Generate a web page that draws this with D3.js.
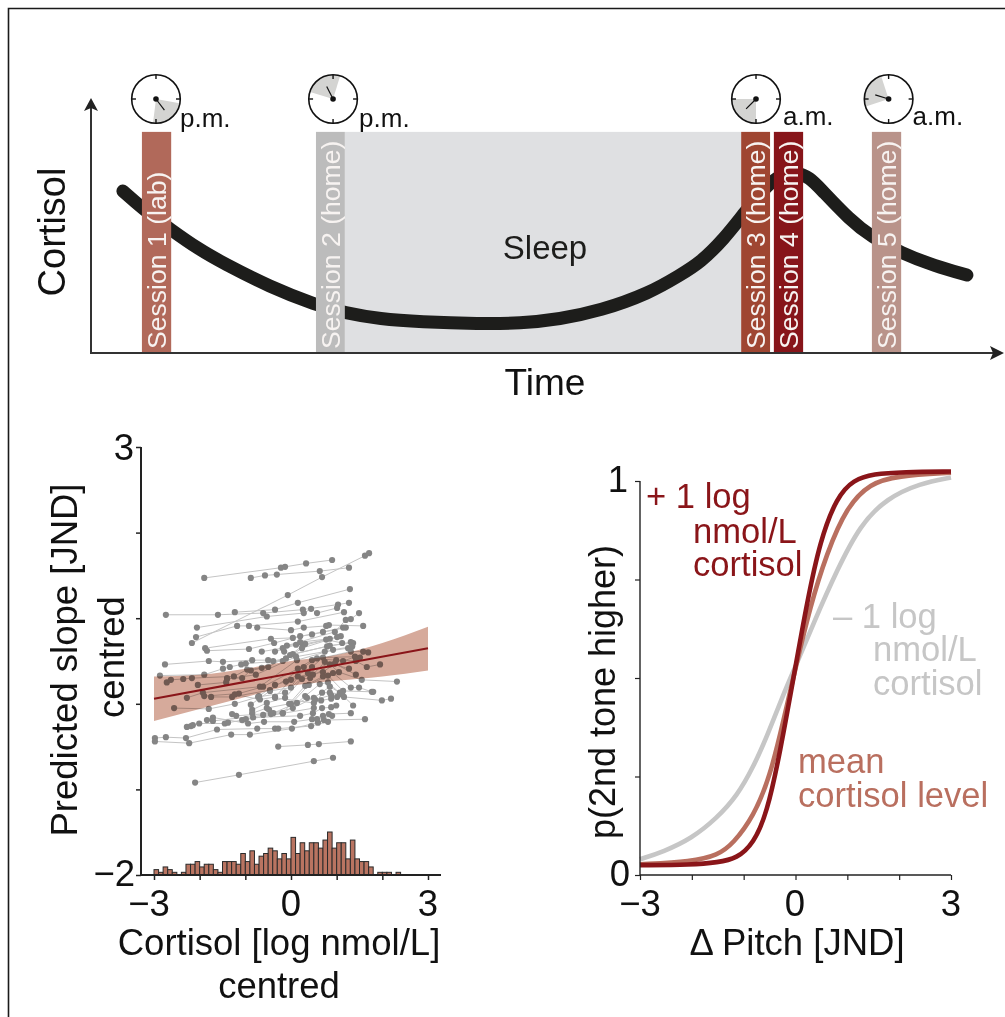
<!DOCTYPE html>
<html>
<head>
<meta charset="utf-8">
<script src="https://cdn.jsdelivr.net/npm/d3@7"></script>
<style>
  html, body { margin: 0; padding: 0; background: #fff; }
  svg { display: block; font-family: "Liberation Sans", Arial, sans-serif; }
</style>
</head>
<body>
<svg id="fig" width="1005" height="1017"></svg>
<script>
// top panel: hours on the time axis, arbitrary units for cortisol
const curveTime = [0.84, 1.34, 2.11, 2.87, 3.47, 4.71, 5.92, 6.68, 7.61, 8.66, 10.24, 11.29, 12.34, 13.39, 14.71, 15.5, 16.03, 16.68, 17.11, 17.87, 18.26, 18.58, 18.92, 19.18, 19.97, 20.55, 21.32, 22.21, 23.05];
const curveCortisol = [6.4, 5.73, 4.86, 4.07, 3.56, 2.61, 1.9, 1.58, 1.34, 1.23, 1.15, 1.17, 1.34, 1.66, 2.37, 3.08, 3.56, 4.55, 5.38, 6.8, 7.08, 7.15, 6.92, 6.52, 5.26, 4.58, 3.95, 3.44, 3.08];

const sessionNames = ["Session 1 (lab)", "Session 2 (home)", "Session 3 (home)", "Session 4 (home)", "Session 5 (home)"];
const sessionStart = [1.34, 5.92, 17.11, 17.97, 20.55];
const sessionEnd = [2.11, 6.68, 17.87, 18.74, 21.32];
const sessionColors = ["#b1695a", "#bcbcbc", "#9f4632", "#87151a", "#b9938a"];
const sleepSpan = [6.68, 17.11];
const panelTop = 8.74;

const clockTime = [1.71, 6.37, 17.5, 20.99];
const clockLabels = ["p.m.", "p.m.", "a.m.", "a.m."];
const clockWedgeFrom = [100, -73, 180, 252];
const clockWedgeTo = [187, 17, 270, 342];
const clockHand = [143, -27, 225, 287];

// bottom left: one array per participant, [cortisol, slope]
const participants = [
  [[-2.17,.71],[-.07,1.27],[.68,1.48],[1.62,1.73],[1.71,1.76]],
  [[-1.9,1.47],[-.22,1.59],[-.13,1.6],[.33,1.64],[.9,1.68]],
  [[-.88,1.47],[-.57,1.5],[-.31,1.51],[.63,1.55],[1.27,1.59]],
  [[-2.74,1.04],[-1.6,1.04],[-.61,1.06],[.26,1.1],[1.03,1.16],[1.27,1.18]],
  [[-1.23,1.07],[-.35,1.1],[.15,1.18],[1.29,1.34]],
  [[-2.06,.89],[-.53,1.02],[.28,1.06],[.44,1.11],[.57,1.06],[1.01,1.12]],
  [[-2.08,.78],[-1.18,.91],[-.92,.91],[.15,.96],[1.16,1.07]],
  [[-.74,.89],[0,.86],[.28,.89],[.77,.91],[.83,.92],[1.58,.91]],
  [[-1.88,.65],[-.44,.76],[.04,.77],[.7,.84],[1.14,.89]],
  [[-1.84,.62],[-.92,.64],[-.37,.71],[.2,.79],[.46,.81],[1.2,.89]],
  [[-.15,.61],[-.09,.68],[.96,.84],[1.2,.98],[1.31,.99],[1.49,1.06]],
  [[-2.76,.46],[-1.8,.5],[-1.49,.49],[-.85,.51],[-.5,.51],[-.39,.5],[-.11,.53],[.26,.68],[1.09,.79]],
  [[-2.87,.33],[-1.9,.34],[-1.49,.41],[-1.34,.43],[-1.09,.46],[-.99,.47],[-.18,.5],[.24,.65],[1.01,.78]],
  [[-2.72,.25],[-2.63,.28],[-2.36,.29],[-2.17,.3],[-1.25,.32],[-.96,.4],[-.64,.42],[.04,.58],[.79,.67],[1.31,.72]],
  [[-1.4,.3],[-1.07,.3],[-.88,.39],[-.5,.43],[-.02,.57],[.85,.68],[1.36,.71]],
  [[-2.04,.22],[-1.42,.25],[-1.4,.29],[-.77,.34],[.11,.55],[.74,.61],[1.25,.65]],
  [[-2.28,.07],[-1.93,.13],[-.68,.2],[.13,.51],[.92,.63],[1.34,.67]],
  [[-1.9,.09],[-1.14,.12],[-.61,.2],[.15,.41],[.46,.51],[1.31,.61],[1.58,.61]],
  [[-1.75,.08],[-1.29,.08],[-.46,.16],[.28,.43],[.57,.53],[1.14,.5],[1.69,.6]],
  [[-.7,.09],[-.35,.22],[-.11,.26],[.46,.43],[.7,.54],[1.4,.55],[1.51,.54]],
  [[-2.56,-.05],[-1.8,-.06],[-1.23,0],[-.72,.08],[-.13,.13],[.37,.36],[.99,.51],[1.42,.5],[1.66,.43],[1.95,.46]],
  [[-1.23,.11],[-.68,.05],[-.35,.08],[0,.28],[.48,.34],[.74,.49],[1.27,.41]],
  [[-.88,-.01],[-.46,.15],[0,.19],[.15,.32],[.7,.37],[.96,.47],[1.42,.34]],
  [[-.85,-.07],[-.53,.01],[-.13,.07],[.24,.29],[.42,.3],[.85,.46],[1.05,.37],[1.55,.28],[2.32,.26]],
  [[-.85,-.11],[-.53,-.05],[-.04,0],[.31,.21],[.7,.32],[.92,.36],[1.31,.19],[1.49,.19],[1.77,.14]],
  [[-.61,-.13],[-.48,-.07],[-.18,-.11],[0,0],[.39,.22],[.81,.33],[1.14,.15],[1.8,.14]],
  [[-.44,-.12],[.13,.01],[.31,.09],[.63,.23],[.81,.25],[1.16,.08],[1.99,.04],[2.19,.06]],
  [[-1.29,-.12],[-1.2,-.14],[-.39,-.11],[.04,-.05],[.5,.07],[.85,.2],[1.07,.13],[1.36,-.02]],
  [[-1.07,-.19],[-.99,-.18],[-.83,-.16],[.2,-.14],[.48,-.11],[.68,-.05],[.88,-.04],[.99,-.02]],
  [[-1.84,-.19],[-1.71,-.16],[-.94,-.23],[-.59,-.21],[.07,-.21],[.46,-.18],[.7,-.14],[.83,-.12],[1.31,-.11]],
  [[-2.28,-.27],[-2.19,-.26],[-2.15,-.25],[-2.01,-.23],[-1.45,-.23],[-1.38,-.22],[.5,-.05],[.68,.13],[.85,.13],[1.12,.11]],
  [[-1.71,-.2],[-.18,-.11],[.35,.07],[.66,.04],[.88,.06],[1.01,.08]],
  [[-2.98,-.4],[-2.74,-.39],[-2.3,-.4],[-1.62,-.3],[-.74,-.29],[-.35,-.29],[-.28,-.29],[.44,-.26],[.81,-.21]],
  [[-2.98,-.44],[-2.23,-.46],[-1.31,-.36],[-.9,-.36],[.02,-.29],[.59,-.22],[.72,-.19],[1.62,-.18]],
  [[-.28,-.5],[.37,-.48],[.61,-.47],[1.31,-.44]],
  [[-2.1,-.92],[-1.14,-.83],[.5,-.67],[.92,-.63]],
  [[.57,-.18],[.9,-.14]],
  [[-.35,.07],[.5,.01],[.53,.05],[.88,.1]],
  [[-.35,.61],[.11,.69],[.31,.7],[.77,.75],[1.12,.71]],
  [[-.64,.61],[-.18,.65],[.2,.72],[.85,.76]]
];

const bandX = [-3, -2, -1, 0, 1, 2, 3];
const bandUpper = [.32, .34, .41, .5, .57, .71, .9];
const bandLower = [-.2, -.06, .08, .21, .27, .32, .39];
const fitX = [-3, 3];
const fitY = [.06, .65];

// histogram of cortisol, bins are 0.1 wide starting at -3
const histCounts = [2, 1, 3, 2, 1, 0, 1, 4, 4, 5, 3, 4, 4, 2, 1, 5, 5, 5, 4, 8, 5, 9, 4, 7, 8, 10, 9, 6, 8, 6,
  14, 8, 12, 9, 12, 12, 10, 13, 16, 10, 12, 12, 6, 13, 6, 5, 5, 3, 0, 1, 1, 1, 0, 1];

// bottom right: psychometric curves
const plusX = [-3, -2, -1.5, -1.13, -.81, -.55, -.3, 0, .22, .476, .8, 1.12, 1.5, 2.08, 3];
const plusY = [.025, .026, .032, .042, .08, .157, .309, .529, .69, .85, .96, 1.003, 1.018, 1.023, 1.024];
const meanX = [-3, -2, -1.5, -1.2, -.81, -.49, -.23, 0, .28, .6, .99, 1.44, 1.95, 3];
const meanY = [.027, .034, .05, .08, .148, .25, .393, .525, .68, .816, .935, .994, 1.013, 1.021];
const minusX = [-3, -2.55, -2, -1.52, -1.13, -.81, -.553, -.23, 0, .347, .8, 1.25, 1.76, 2.4, 3];
const minusY = [.04, .059, .093, .144, .2, .275, .351, .46, .529, .639, .774, .889, .956, .994, 1.009];

const svg = d3.select("#fig");
const bigFont = 36.5;

function label(g, str, x, y, opts = {}) {
  return g.append("text")
    .attr("transform", `translate(${x},${y})` + (opts.rotate ? ` rotate(${opts.rotate})` : ""))
    .attr("text-anchor", opts.anchor || "start")
    .attr("font-size", opts.size || bigFont)
    .attr("fill", opts.fill || "#111")
    .text(str);
}

// frame, only top and left are visible
svg.append("path").attr("d", "M8.5,1017V8.5H1005").attr("fill", "none").attr("stroke", "#1a1a1a").attr("stroke-width", 1.6);

// ---- top panel
const tx = d3.scaleLinear().domain([0, 24]).range([91, 1003]);
const ty = d3.scaleLinear().domain([0, 10]).range([353, 100]);
const topPanel = svg.append("g");

topPanel.append("rect")
  .attr("x", tx(sleepSpan[0])).attr("width", tx(sleepSpan[1]) - tx(sleepSpan[0]))
  .attr("y", ty(panelTop)).attr("height", ty(0) - ty(panelTop))
  .attr("fill", "#dfe0e2");

const cortisolLine = d3.line().x((d, i) => tx(curveTime[i])).y((d) => ty(d)).curve(d3.curveBasis);
topPanel.append("path")
  .attr("d", cortisolLine(curveCortisol))
  .attr("fill", "none").attr("stroke", "#1d1d1b").attr("stroke-width", 13).attr("stroke-linecap", "round");

sessionNames.forEach((name, i) => {
  topPanel.append("rect")
    .attr("x", tx(sessionStart[i])).attr("width", tx(sessionEnd[i]) - tx(sessionStart[i]))
    .attr("y", ty(panelTop)).attr("height", ty(0) - ty(panelTop))
    .attr("fill", sessionColors[i]);
  label(topPanel, name, tx(sessionStart[i]) + 24, 349, { rotate: -90, size: 26.6, fill: "#f7f3f1" });
});

label(topPanel, "Sleep", 545, 259, { anchor: "middle", size: 33, fill: "#1d1d1b" });

topPanel.append("path").attr("d", "M91,104V353H997").attr("fill", "none").attr("stroke", "#333").attr("stroke-width", 2);
topPanel.append("path").attr("d", "M91,98L98,111L91,108L84,111Z").attr("fill", "#222");
topPanel.append("path").attr("d", "M1004,353L990,346L993,353L990,360Z").attr("fill", "#222");

label(topPanel, "Cortisol", 65, 232, { rotate: -90, anchor: "middle", size: 38 });
label(topPanel, "Time", 545, 395, { anchor: "middle", size: 37 });

// clocks
const clockArc = d3.arc().innerRadius(0).outerRadius(24);
const rad = (deg) => (deg * Math.PI) / 180;
const clockLabelDx = [24, 26, 27, 24];
const clockLabelY = [126.5, 126.5, 124.5, 124.5];
clockTime.forEach((t, i) => {
  const c = topPanel.append("g").attr("transform", `translate(${tx(t)},99)`);
  c.append("path")
    .attr("d", clockArc({ startAngle: rad(clockWedgeFrom[i]), endAngle: rad(clockWedgeTo[i]) }))
    .attr("fill", "#d4d4d2");
  c.append("circle").attr("r", 24.3).attr("fill", "none").attr("stroke", "#111").attr("stroke-width", 1.6);
  [0, 90, 180, 270].forEach((a) => {
    c.append("line")
      .attr("x1", 20 * Math.sin(rad(a))).attr("y1", -20 * Math.cos(rad(a)))
      .attr("x2", 24 * Math.sin(rad(a))).attr("y2", -24 * Math.cos(rad(a)))
      .attr("stroke", "#111").attr("stroke-width", 1.4);
  });
  c.append("line")
    .attr("x2", 14 * Math.sin(rad(clockHand[i]))).attr("y2", -14 * Math.cos(rad(clockHand[i])))
    .attr("stroke", "#111").attr("stroke-width", 1.2);
  c.append("circle").attr("r", 2.8).attr("fill", "#111");
  label(topPanel, clockLabels[i], tx(t) + clockLabelDx[i], clockLabelY[i], { size: 26, fill: "#111" });
});

// ---- bottom left
const sx = d3.scaleLinear().domain([-3, 3]).range([154, 428]);
const sy = d3.scaleLinear().domain([-2, 3]).range([875, 447]);
const hy = d3.scaleLinear().domain([0, 16]).range([875, 832]);
const leftPanel = svg.append("g");

participants.forEach((p) => {
  leftPanel.append("path")
    .attr("d", d3.line().x((d) => sx(d[0])).y((d) => sy(d[1]))(p))
    .attr("fill", "none").attr("stroke", "#c4c4c4").attr("stroke-width", 1);
});
leftPanel.append("g").selectAll("circle")
  .data(participants.flat())
  .join("circle")
  .attr("cx", (d) => sx(d[0])).attr("cy", (d) => sy(d[1])).attr("r", 3.1)
  .attr("fill", "#858585");

const band = d3.area()
  .x((d) => sx(d))
  .y0((d, i) => sy(bandLower[i]))
  .y1((d, i) => sy(bandUpper[i]))
  .curve(d3.curveMonotoneX);
leftPanel.append("path").attr("d", band(bandX)).attr("fill", "#d6aa9b").style("mix-blend-mode", "multiply");
leftPanel.append("line")
  .attr("x1", sx(fitX[0])).attr("y1", sy(fitY[0])).attr("x2", sx(fitX[1])).attr("y2", sy(fitY[1]))
  .attr("stroke", "#8a1519").attr("stroke-width", 2);

const binWidth = 0.1;
leftPanel.append("g").selectAll("rect")
  .data(histCounts)
  .join("rect")
  .attr("display", (d) => (d > 0 ? null : "none"))
  .attr("x", (d, i) => sx(-3 + i * binWidth))
  .attr("width", sx(binWidth) - sx(0))
  .attr("y", (d) => hy(d))
  .attr("height", (d) => hy(0) - hy(d))
  .attr("fill", "#b97461").attr("stroke", "#2b2b2b").attr("stroke-width", 1);

const leftX = leftPanel.append("g").attr("transform", "translate(0,875)")
  .call(d3.axisBottom(sx).tickValues([-3, -2, -1, 0, 1, 2, 3]).tickSize(5).tickFormat(""));
leftX.select(".domain").attr("d", "M141,0H441").attr("stroke", "#222").attr("stroke-width", 2);
leftX.selectAll(".tick line").attr("stroke", "#222").attr("stroke-width", 1.5);
const leftY = leftPanel.append("g").attr("transform", "translate(141,0)")
  .call(d3.axisLeft(sy).tickValues([-2, -1, 0, 1, 2, 3]).tickSize(5).tickFormat(""));
leftY.select(".domain").attr("d", "M0,447V875").attr("stroke", "#222").attr("stroke-width", 2);
leftY.selectAll(".tick line").attr("stroke", "#222").attr("stroke-width", 1.5);

label(leftPanel, "3", 134, 460, { anchor: "end" });
label(leftPanel, "−2", 135, 886, { anchor: "end" });
label(leftPanel, "−3", 149, 916, { anchor: "middle" });
label(leftPanel, "0", 291, 916, { anchor: "middle" });
label(leftPanel, "3", 428, 916, { anchor: "middle" });
label(leftPanel, "Predicted slope [JND]", 77, 660, { rotate: -90, anchor: "middle" });
label(leftPanel, "centred", 124, 657, { rotate: -90, anchor: "middle" });
label(leftPanel, "Cortisol [log nmol/L]", 279, 955, { anchor: "middle" });
label(leftPanel, "centred", 279, 998, { anchor: "middle" });

// ---- bottom right
const px = d3.scaleLinear().domain([-3, 3]).range([640, 951]);
const py = d3.scaleLinear().domain([0, 1]).range([875, 481]);
const rightPanel = svg.append("g");

const curveSets = [
  [minusX, minusY, "#c6c6c6"],
  [meanX, meanY, "#b96f5f"],
  [plusX, plusY, "#8a1519"]
];
curveSets.forEach(([xs, ys, color]) => {
  rightPanel.append("path")
    .attr("d", d3.line().x((d, i) => px(xs[i])).y((d) => py(d)).curve(d3.curveBasis)(ys))
    .attr("fill", "none").attr("stroke", color).attr("stroke-width", 4.6);
});

const rightX = rightPanel.append("g").attr("transform", "translate(0,875)")
  .call(d3.axisBottom(px).tickValues([-3, -2, -1, 0, 1, 2, 3]).tickSize(5).tickFormat(""));
rightX.select(".domain").attr("d", "M640,0H951").attr("stroke", "#222").attr("stroke-width", 1.4);
rightX.selectAll(".tick line").attr("stroke", "#222").attr("stroke-width", 1.2);
const rightY = rightPanel.append("g").attr("transform", "translate(640,0)")
  .call(d3.axisLeft(py).tickValues([0, .25, .5, .75, 1]).tickSize(5).tickFormat(""));
rightY.select(".domain").attr("d", "M0,481V875").attr("stroke", "#222").attr("stroke-width", 1.4);
rightY.selectAll(".tick line").attr("stroke", "#222").attr("stroke-width", 1.2);

label(rightPanel, "1", 628, 492, { anchor: "end" });
label(rightPanel, "0", 630, 885.5, { anchor: "end" });
label(rightPanel, "−3", 640, 916, { anchor: "middle" });
label(rightPanel, "0", 795, 916, { anchor: "middle" });
label(rightPanel, "3", 951, 916, { anchor: "middle" });
label(rightPanel, "p(2nd tone higher)", 615, 692, { rotate: -90, anchor: "middle", size: 36 });
label(rightPanel, "Δ Pitch [JND]", 797, 955, { anchor: "middle" });

const dark = "#8a1519", mid = "#b96f5f", pale = "#c6c6c6";
label(rightPanel, "+ 1 log", 646, 508, { size: 34.6, fill: dark });
label(rightPanel, "nmol/L", 693, 543, { size: 34.6, fill: dark });
label(rightPanel, "cortisol", 693, 576, { size: 34.6, fill: dark });
label(rightPanel, "– 1 log", 833, 628, { size: 34.6, fill: pale });
label(rightPanel, "nmol/L", 873, 661, { size: 34.6, fill: pale });
label(rightPanel, "cortisol", 873, 695, { size: 34.6, fill: pale });
label(rightPanel, "mean", 798, 773, { size: 34.6, fill: mid });
label(rightPanel, "cortisol level", 798, 807, { size: 34.6, fill: mid });
</script>
</body>
</html>
